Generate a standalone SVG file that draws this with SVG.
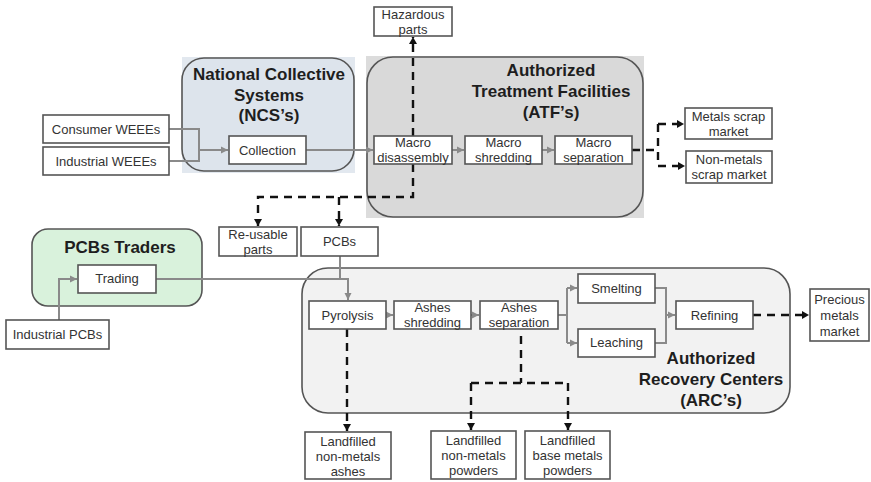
<svg xmlns="http://www.w3.org/2000/svg" width="871" height="482" viewBox="0 0 871 482">
<defs>
<marker id="ag" markerWidth="8" markerHeight="8" refX="7" refY="4" orient="auto" markerUnits="userSpaceOnUse"><path d="M0,0.5 L7,4 L0,7.5 Z" fill="#8a8a8a"/></marker>
<marker id="ab" markerWidth="8" markerHeight="9" refX="7" refY="4.5" orient="auto" markerUnits="userSpaceOnUse"><path d="M0,0.5 L7,4.5 L0,8.5 Z" fill="#111"/></marker>
<style>
.box{fill:#fff;stroke:#555;stroke-width:1.6}
.t{font-family:"Liberation Sans",Arial,sans-serif;font-size:13px;fill:#333;text-anchor:middle}
.h{font-family:"Liberation Sans",Arial,sans-serif;font-size:17px;font-weight:bold;fill:#1e1e1e;text-anchor:middle}
.s{fill:none;stroke:#8a8a8a;stroke-width:2}
.d{fill:none;stroke:#111;stroke-width:2.4;stroke-dasharray:8,6}
</style>
</defs>
<rect width="871" height="482" fill="#fff"/>
<g id="ncs">
<rect x="182" y="57" width="173" height="116" fill="#e2e8ef"/>
<rect x="182" y="58" width="172" height="113" rx="22" fill="#dde4ec" stroke="#555" stroke-width="1.6"/>
<text class="h" x="269" y="80">National Collective</text>
<text class="h" x="269" y="101">Systems</text>
<text class="h" x="269" y="121">(NCS’s)</text>
</g>
<g id="atf">
<rect x="366" y="56" width="278" height="162" fill="#dcdcdc"/>
<rect x="367" y="57" width="276" height="160" rx="26" fill="#d9d9d9" stroke="#555" stroke-width="1.6"/>
<text class="h" x="551" y="76">Authorized</text>
<text class="h" x="551" y="97">Treatment Facilities</text>
<text class="h" x="551" y="118">(ATF’s)</text>
</g>
<g id="traders">
<rect x="32" y="229" width="170" height="77" rx="16" fill="#d9f2dc" stroke="#555" stroke-width="1.6"/>
<text class="h" x="120" y="253">PCBs Traders</text>
</g>
<g id="arc">
<rect x="302" y="268" width="488" height="145" rx="26" fill="#f2f2f2" stroke="#555" stroke-width="1.6"/>
<text class="h" x="711" y="364">Authorized</text>
<text class="h" x="711" y="385">Recovery Centers</text>
<text class="h" x="711" y="406">(ARC’s)</text>
</g>
<g id="connectors">
<path class="s" d="M169,129 H199 V150 M169,161 H199 V150"/>
<path class="s" d="M199,150 H228" marker-end="url(#ag)"/>
<path class="s" d="M306,150 H373" marker-end="url(#ag)"/>
<path class="s" d="M452,150 H464" marker-end="url(#ag)"/>
<path class="s" d="M542,150 H554" marker-end="url(#ag)"/>
<path class="s" d="M59,320 V279 H77" marker-end="url(#ag)"/>
<path class="s" d="M156,279 H348 V300" marker-end="url(#ag)"/>
<path class="s" d="M340,256 V279"/>
<path class="s" d="M386,315 H393" marker-end="url(#ag)"/>
<path class="s" d="M471,315 H479" marker-end="url(#ag)"/>
<path class="s" d="M558,315 H567 M567,288 V343"/>
<path class="s" d="M567,288 H577" marker-end="url(#ag)"/>
<path class="s" d="M567,343 H577" marker-end="url(#ag)"/>
<path class="s" d="M655,288 H666 V343 H655"/>
<path class="s" d="M666,315 H675" marker-end="url(#ag)"/>
<path class="d" d="M413,136 V37" marker-end="url(#ab)"/>
<path class="d" d="M413,164 V197 H258 V226" marker-end="url(#ab)"/>
<path class="d" d="M339,197 V226" marker-end="url(#ab)"/>
<path class="d" d="M632,150 H658 M658,124 V166"/>
<path class="d" d="M658,124 H684" marker-end="url(#ab)"/>
<path class="d" d="M658,166 H685" marker-end="url(#ab)"/>
<path class="d" d="M753,315 H809" marker-end="url(#ab)"/>
<path class="d" d="M347,329 V431" marker-end="url(#ab)"/>
<path class="d" d="M521,336 V383 M471,383 H568"/>
<path class="d" d="M471,383 V430" marker-end="url(#ab)"/>
<path class="d" d="M568,383 V430" marker-end="url(#ab)"/>
</g>
<g id="consumer"><rect class="box" x="43" y="115" width="126" height="28"/><text class="t" x="106" y="134">Consumer WEEEs</text></g>
<g id="industrial"><rect class="box" x="43" y="147" width="126" height="28"/><text class="t" x="106" y="166">Industrial WEEEs</text></g>
<g id="collection"><rect class="box" x="229" y="136" width="77" height="28"/><text class="t" x="267.5" y="155">Collection</text></g>
<g id="hazardous"><rect class="box" x="374" y="7" width="78" height="29"/><text class="t" x="413" y="19">Hazardous</text><text class="t" x="413" y="34">parts</text></g>
<g id="macro-dis"><rect class="box" x="374" y="136" width="78" height="28"/><text class="t" x="413" y="147">Macro</text><text class="t" x="413" y="162">disassembly</text></g>
<g id="macro-shred"><rect class="box" x="465" y="136" width="77" height="28"/><text class="t" x="503.5" y="147">Macro</text><text class="t" x="503.5" y="162">shredding</text></g>
<g id="macro-sep"><rect class="box" x="555" y="136" width="77" height="28"/><text class="t" x="593.5" y="147">Macro</text><text class="t" x="593.5" y="162">separation</text></g>
<g id="metals-scrap"><rect class="box" x="685" y="108" width="87" height="31"/><text class="t" x="728.5" y="121">Metals scrap</text><text class="t" x="728.5" y="136">market</text></g>
<g id="nonmetals-scrap"><rect class="box" x="686" y="151" width="86" height="32"/><text class="t" x="729" y="164">Non-metals</text><text class="t" x="729" y="179">scrap market</text></g>
<g id="reusable"><rect class="box" x="219" y="227" width="78" height="29"/><text class="t" x="258" y="239">Re-usable</text><text class="t" x="258" y="254">parts</text></g>
<g id="pcbs"><rect class="box" x="301" y="227" width="77" height="29"/><text class="t" x="339.5" y="246">PCBs</text></g>
<g id="trading"><rect class="box" x="78" y="265" width="78" height="28"/><text class="t" x="117" y="283">Trading</text></g>
<g id="industrial-pcbs"><rect class="box" x="6" y="320" width="103" height="29"/><text class="t" x="57.5" y="339">Industrial PCBs</text></g>
<g id="pyrolysis"><rect class="box" x="309" y="301" width="77" height="28"/><text class="t" x="347.5" y="320">Pyrolysis</text></g>
<g id="ashes-shred"><rect class="box" x="394" y="301" width="77" height="28"/><text class="t" x="432.5" y="312">Ashes</text><text class="t" x="432.5" y="327">shredding</text></g>
<g id="ashes-sep"><rect class="box" x="480" y="301" width="78" height="28"/><text class="t" x="519" y="312">Ashes</text><text class="t" x="519" y="327">separation</text></g>
<g id="smelting"><rect class="box" x="578" y="274" width="77" height="29"/><text class="t" x="616.5" y="293">Smelting</text></g>
<g id="leaching"><rect class="box" x="578" y="329" width="77" height="28"/><text class="t" x="616.5" y="347">Leaching</text></g>
<g id="refining"><rect class="box" x="676" y="301" width="77" height="28"/><text class="t" x="714.5" y="320">Refining</text></g>
<g id="precious"><rect class="box" x="810" y="289" width="59" height="52"/><text class="t" x="839.5" y="304">Precious</text><text class="t" x="839.5" y="320">metals</text><text class="t" x="839.5" y="336">market</text></g>
<g id="lf-ashes"><rect class="box" x="305" y="432" width="86" height="47"/><text class="t" x="348" y="446">Landfilled</text><text class="t" x="348" y="461">non-metals</text><text class="t" x="348" y="476">ashes</text></g>
<g id="lf-nonmetals"><rect class="box" x="431" y="431" width="85" height="48"/><text class="t" x="473.5" y="445">Landfilled</text><text class="t" x="473.5" y="460">non-metals</text><text class="t" x="473.5" y="475">powders</text></g>
<g id="lf-base"><rect class="box" x="525" y="431" width="85" height="48"/><text class="t" x="567.5" y="445">Landfilled</text><text class="t" x="567.5" y="460">base metals</text><text class="t" x="567.5" y="475">powders</text></g>
</svg>
